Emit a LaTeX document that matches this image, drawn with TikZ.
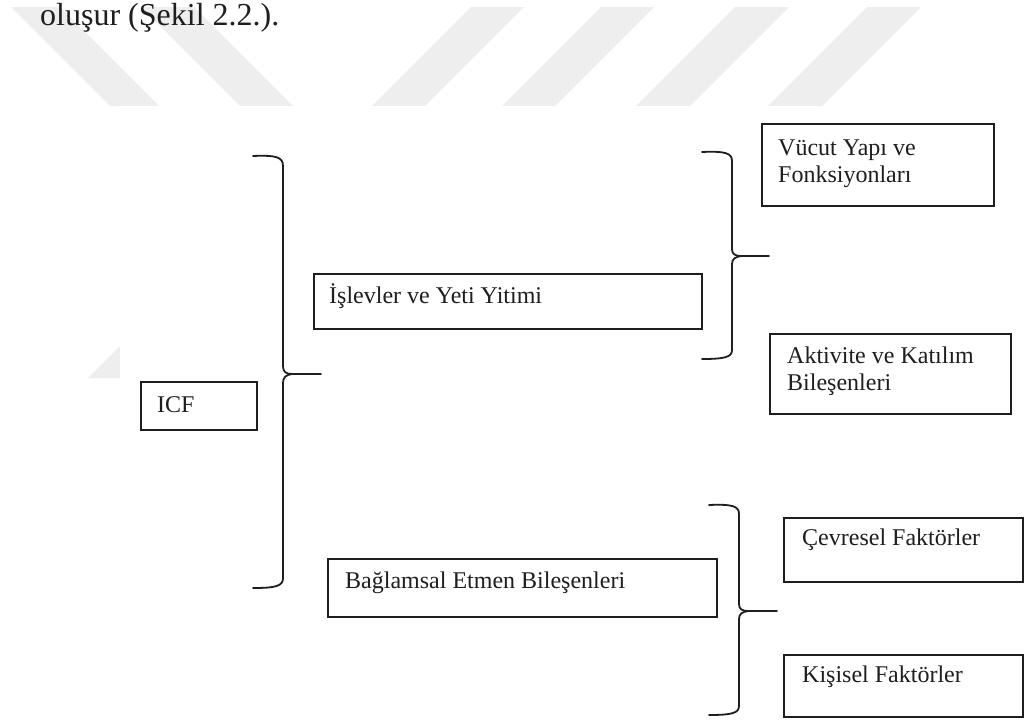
\documentclass[tikz,border=0pt]{standalone}
\usepackage{fontspec}
\setmainfont{Liberation Serif}
\definecolor{wm}{RGB}{238,238,238}
\definecolor{ink}{RGB}{30,30,30}
\tikzset{
  box/.style={draw=ink, line width=1.8pt, inner sep=0pt, anchor=north west},
  lbl/.style={anchor=base west, inner sep=0pt, text=ink, font=\fontsize{24}{27}\selectfont, align=left},
  brace/.style={draw=ink, line width=1.8pt, line cap=round, line join=round},
}
\begin{document}
\begin{tikzpicture}[x=1pt,y=-1pt]
\useasboundingbox (0,0) rectangle (1024,720);
\fill[white] (0,0) rectangle (1024,720);
% watermark stripes
\fill[wm] (11,7) -- (60,7) -- (159,106) -- (110,106) -- cycle;
\fill[wm] (141,7) -- (194,7) -- (293,106) -- (240,106) -- cycle;
\fill[wm] (471,7) -- (524,7) -- (425,106) -- (372,106) -- cycle;
\fill[wm] (601,7) -- (654,7) -- (555,106) -- (502,106) -- cycle;
\fill[wm] (735,7) -- (789,7) -- (690,106) -- (636,106) -- cycle;
\fill[wm] (867,7) -- (921,7) -- (822,106) -- (768,106) -- cycle;
\fill[wm] (88,378) -- (120,346) -- (120,378) -- cycle;
\fill[white] (120,106) rectangle (1024,720);
% heading text
\node[anchor=base west, inner sep=0pt, text=ink, font=\fontsize{32}{36}\selectfont] (head) at (40,25) {oluşur (Şekil 2.2.).};
% boxes
\node[box, minimum width=116pt, minimum height=48pt] (icf) at (140,381) {};
\node[box, minimum width=388pt, minimum height=55pt] (isl) at (313,273) {};
\node[box, minimum width=232pt, minimum height=82pt] (vuc) at (761,123) {};
\node[box, minimum width=241pt, minimum height=80pt] (akt) at (769,333) {};
\node[box, minimum width=389pt, minimum height=58pt] (bag) at (327,558) {};
\node[box, minimum width=239pt, minimum height=64pt] (cev) at (783,517) {};
\node[box, minimum width=239pt, minimum height=62pt] (kis) at (783,654) {};
% labels
\node[lbl] (ticf) at (157,412) {ICF};
\node[lbl] (tisl) at (329,303) {İşlevler ve Yeti Yitimi};
\node[lbl] (tvuc) at (778,182) {Vücut Yapı ve\\Fonksiyonları};
\node[lbl] (takt) at (787,390) {Aktivite ve Katılım\\Bileşenleri};
\node[lbl] (tbag) at (345,588) {Bağlamsal Etmen Bileşenleri};
\node[lbl] (tcev) at (802,545) {Çevresel Faktörler};
\node[lbl] (tkis) at (802,682) {Kişisel Faktörler};
% braces
\draw[brace] (253,156) .. controls (276,155) and (283,157) .. (283,166) -- (283,366)
  .. controls (283,372) and (286,374) .. (292,374) -- (321,374);
\draw[brace] (292,374) .. controls (286,375) and (283,377) .. (283,383) -- (283,578)
  .. controls (283,586) and (276,588) .. (253,588);
\draw[brace] (702,152) .. controls (725,151) and (732,153) .. (732,161) -- (732,249)
  .. controls (732,254) and (735,256) .. (741,256) -- (769,256);
\draw[brace] (741,256) .. controls (735,257) and (732,259) .. (732,264) -- (732,350)
  .. controls (732,357) and (725,359) .. (702,359);
\draw[brace] (709,505) .. controls (732,504) and (739,506) .. (739,514) -- (739,604)
  .. controls (739,609) and (742,611) .. (748,611) -- (777,611);
\draw[brace] (748,611) .. controls (742,612) and (739,614) .. (739,619) -- (739,706)
  .. controls (739,713) and (732,715) .. (709,715);
\end{tikzpicture}
\end{document}
